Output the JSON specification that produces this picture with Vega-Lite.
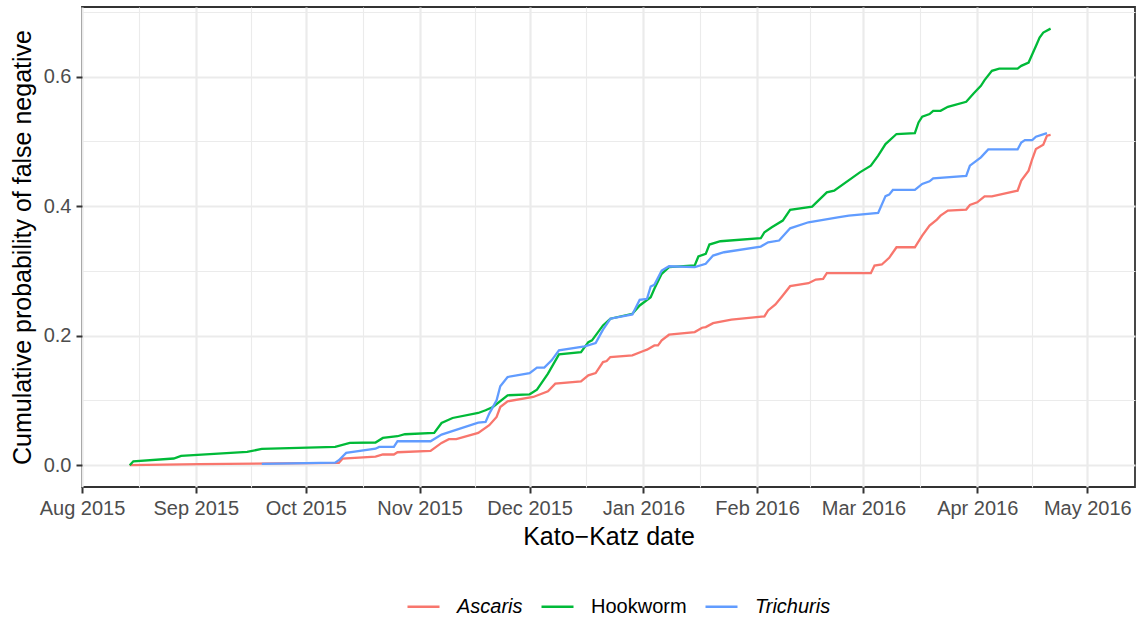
{
  "$schema": "https://vega.github.io/schema/vega-lite/v6.json",
  "width": 1053,
  "height": 480,
  "autosize": {"type": "none"},
  "padding": {"left": 82, "top": 7, "right": 8, "bottom": 132},
  "background": "white",
  "config": {
    "font": "Liberation Sans",
    "view": {"stroke": "#333333", "strokeWidth": 1.8},
    "axis": {"domain": false}
  },
  "data": {"values": [
    {"s":"Ascaris","d":"2015-08-14","p":0},
    {"s":"Ascaris","d":"2015-09-02","p":0.0015},
    {"s":"Ascaris","d":"2015-10-10","p":0.0035},
    {"s":"Ascaris","d":"2015-10-11","p":0.010},
    {"s":"Ascaris","d":"2015-10-20","p":0.0131},
    {"s":"Ascaris","d":"2015-10-22","p":0.0165},
    {"s":"Ascaris","d":"2015-10-25","p":0.0165},
    {"s":"Ascaris","d":"2015-10-26","p":0.020},
    {"s":"Ascaris","d":"2015-11-04","p":0.022},
    {"s":"Ascaris","d":"2015-11-07","p":0.0344},
    {"s":"Ascaris","d":"2015-11-09","p":0.0401},
    {"s":"Ascaris","d":"2015-11-11","p":0.0401},
    {"s":"Ascaris","d":"2015-11-17","p":0.0498},
    {"s":"Ascaris","d":"2015-11-20","p":0.0617},
    {"s":"Ascaris","d":"2015-11-22","p":0.0745},
    {"s":"Ascaris","d":"2015-11-23","p":0.0899},
    {"s":"Ascaris","d":"2015-11-25","p":0.0987},
    {"s":"Ascaris","d":"2015-12-02","p":0.1053},
    {"s":"Ascaris","d":"2015-12-06","p":0.1141},
    {"s":"Ascaris","d":"2015-12-08","p":0.126},
    {"s":"Ascaris","d":"2015-12-15","p":0.1295},
    {"s":"Ascaris","d":"2015-12-17","p":0.1388},
    {"s":"Ascaris","d":"2015-12-19","p":0.1423},
    {"s":"Ascaris","d":"2015-12-21","p":0.1593},
    {"s":"Ascaris","d":"2015-12-22","p":0.1608},
    {"s":"Ascaris","d":"2015-12-23","p":0.167},
    {"s":"Ascaris","d":"2015-12-29","p":0.1696},
    {"s":"Ascaris","d":"2016-01-01","p":0.1763},
    {"s":"Ascaris","d":"2016-01-02","p":0.1784},
    {"s":"Ascaris","d":"2016-01-04","p":0.185},
    {"s":"Ascaris","d":"2016-01-05","p":0.185},
    {"s":"Ascaris","d":"2016-01-06","p":0.1928},
    {"s":"Ascaris","d":"2016-01-08","p":0.2015},
    {"s":"Ascaris","d":"2016-01-15","p":0.2056},
    {"s":"Ascaris","d":"2016-01-17","p":0.2123},
    {"s":"Ascaris","d":"2016-01-18","p":0.2133},
    {"s":"Ascaris","d":"2016-01-20","p":0.2194},
    {"s":"Ascaris","d":"2016-01-25","p":0.2247},
    {"s":"Ascaris","d":"2016-02-03","p":0.2298},
    {"s":"Ascaris","d":"2016-02-04","p":0.239},
    {"s":"Ascaris","d":"2016-02-06","p":0.2483},
    {"s":"Ascaris","d":"2016-02-08","p":0.2621},
    {"s":"Ascaris","d":"2016-02-10","p":0.2765},
    {"s":"Ascaris","d":"2016-02-15","p":0.2811},
    {"s":"Ascaris","d":"2016-02-17","p":0.2868},
    {"s":"Ascaris","d":"2016-02-19","p":0.2879},
    {"s":"Ascaris","d":"2016-02-20","p":0.2965},
    {"s":"Ascaris","d":"2016-03-03","p":0.2965},
    {"s":"Ascaris","d":"2016-03-04","p":0.3084},
    {"s":"Ascaris","d":"2016-03-06","p":0.310},
    {"s":"Ascaris","d":"2016-03-08","p":0.3203},
    {"s":"Ascaris","d":"2016-03-10","p":0.3366},
    {"s":"Ascaris","d":"2016-03-15","p":0.3366},
    {"s":"Ascaris","d":"2016-03-17","p":0.3547},
    {"s":"Ascaris","d":"2016-03-19","p":0.3701},
    {"s":"Ascaris","d":"2016-03-21","p":0.3793},
    {"s":"Ascaris","d":"2016-03-22","p":0.3855},
    {"s":"Ascaris","d":"2016-03-24","p":0.3932},
    {"s":"Ascaris","d":"2016-03-29","p":0.3948},
    {"s":"Ascaris","d":"2016-03-30","p":0.402},
    {"s":"Ascaris","d":"2016-04-01","p":0.406},
    {"s":"Ascaris","d":"2016-04-03","p":0.4153},
    {"s":"Ascaris","d":"2016-04-05","p":0.4153},
    {"s":"Ascaris","d":"2016-04-12","p":0.424},
    {"s":"Ascaris","d":"2016-04-13","p":0.4395},
    {"s":"Ascaris","d":"2016-04-15","p":0.4549},
    {"s":"Ascaris","d":"2016-04-16","p":0.4729},
    {"s":"Ascaris","d":"2016-04-17","p":0.4884},
    {"s":"Ascaris","d":"2016-04-19","p":0.495},
    {"s":"Ascaris","d":"2016-04-20","p":0.5089},
    {"s":"Ascaris","d":"2016-04-21","p":0.510},
    {"s":"Hookworm","d":"2015-08-14","p":0},
    {"s":"Hookworm","d":"2015-08-15","p":0.006},
    {"s":"Hookworm","d":"2015-08-26","p":0.0103},
    {"s":"Hookworm","d":"2015-08-28","p":0.0143},
    {"s":"Hookworm","d":"2015-09-15","p":0.0205},
    {"s":"Hookworm","d":"2015-09-19","p":0.0251},
    {"s":"Hookworm","d":"2015-10-09","p":0.0282},
    {"s":"Hookworm","d":"2015-10-13","p":0.0344},
    {"s":"Hookworm","d":"2015-10-20","p":0.035},
    {"s":"Hookworm","d":"2015-10-22","p":0.0421},
    {"s":"Hookworm","d":"2015-10-26","p":0.0447},
    {"s":"Hookworm","d":"2015-10-28","p":0.0478},
    {"s":"Hookworm","d":"2015-11-05","p":0.0498},
    {"s":"Hookworm","d":"2015-11-07","p":0.0652},
    {"s":"Hookworm","d":"2015-11-10","p":0.0729},
    {"s":"Hookworm","d":"2015-11-17","p":0.0806},
    {"s":"Hookworm","d":"2015-11-19","p":0.0848},
    {"s":"Hookworm","d":"2015-11-21","p":0.0899},
    {"s":"Hookworm","d":"2015-11-25","p":0.108},
    {"s":"Hookworm","d":"2015-12-01","p":0.1095},
    {"s":"Hookworm","d":"2015-12-03","p":0.1167},
    {"s":"Hookworm","d":"2015-12-06","p":0.1414},
    {"s":"Hookworm","d":"2015-12-09","p":0.1712},
    {"s":"Hookworm","d":"2015-12-15","p":0.1747},
    {"s":"Hookworm","d":"2015-12-17","p":0.1901},
    {"s":"Hookworm","d":"2015-12-18","p":0.1928},
    {"s":"Hookworm","d":"2015-12-21","p":0.2159},
    {"s":"Hookworm","d":"2015-12-23","p":0.2262},
    {"s":"Hookworm","d":"2015-12-29","p":0.2339},
    {"s":"Hookworm","d":"2015-12-31","p":0.2467},
    {"s":"Hookworm","d":"2016-01-03","p":0.2595},
    {"s":"Hookworm","d":"2016-01-04","p":0.2725},
    {"s":"Hookworm","d":"2016-01-06","p":0.2956},
    {"s":"Hookworm","d":"2016-01-08","p":0.3058},
    {"s":"Hookworm","d":"2016-01-15","p":0.3084},
    {"s":"Hookworm","d":"2016-01-16","p":0.3223},
    {"s":"Hookworm","d":"2016-01-18","p":0.3264},
    {"s":"Hookworm","d":"2016-01-19","p":0.3408},
    {"s":"Hookworm","d":"2016-01-22","p":0.3459},
    {"s":"Hookworm","d":"2016-02-02","p":0.3505},
    {"s":"Hookworm","d":"2016-02-03","p":0.3598},
    {"s":"Hookworm","d":"2016-02-05","p":0.3675},
    {"s":"Hookworm","d":"2016-02-08","p":0.3778},
    {"s":"Hookworm","d":"2016-02-10","p":0.3943},
    {"s":"Hookworm","d":"2016-02-16","p":0.3994},
    {"s":"Hookworm","d":"2016-02-20","p":0.4214},
    {"s":"Hookworm","d":"2016-02-22","p":0.4241},
    {"s":"Hookworm","d":"2016-02-29","p":0.4523},
    {"s":"Hookworm","d":"2016-03-03","p":0.4626},
    {"s":"Hookworm","d":"2016-03-05","p":0.478},
    {"s":"Hookworm","d":"2016-03-07","p":0.496},
    {"s":"Hookworm","d":"2016-03-10","p":0.5115},
    {"s":"Hookworm","d":"2016-03-15","p":0.513},
    {"s":"Hookworm","d":"2016-03-16","p":0.5294},
    {"s":"Hookworm","d":"2016-03-17","p":0.5382},
    {"s":"Hookworm","d":"2016-03-19","p":0.5423},
    {"s":"Hookworm","d":"2016-03-20","p":0.5474},
    {"s":"Hookworm","d":"2016-03-22","p":0.5474},
    {"s":"Hookworm","d":"2016-03-24","p":0.5536},
    {"s":"Hookworm","d":"2016-03-29","p":0.5613},
    {"s":"Hookworm","d":"2016-03-31","p":0.5741},
    {"s":"Hookworm","d":"2016-04-02","p":0.586},
    {"s":"Hookworm","d":"2016-04-03","p":0.5948},
    {"s":"Hookworm","d":"2016-04-05","p":0.6091},
    {"s":"Hookworm","d":"2016-04-07","p":0.6126},
    {"s":"Hookworm","d":"2016-04-12","p":0.6126},
    {"s":"Hookworm","d":"2016-04-13","p":0.6168},
    {"s":"Hookworm","d":"2016-04-15","p":0.6219},
    {"s":"Hookworm","d":"2016-04-16","p":0.6348},
    {"s":"Hookworm","d":"2016-04-17","p":0.6476},
    {"s":"Hookworm","d":"2016-04-18","p":0.6605},
    {"s":"Hookworm","d":"2016-04-19","p":0.6682},
    {"s":"Hookworm","d":"2016-04-21","p":0.6743},
    {"s":"Trichuris","d":"2015-09-19","p":0.002},
    {"s":"Trichuris","d":"2015-10-09","p":0.004},
    {"s":"Trichuris","d":"2015-10-10","p":0.0077},
    {"s":"Trichuris","d":"2015-10-12","p":0.019},
    {"s":"Trichuris","d":"2015-10-20","p":0.0254},
    {"s":"Trichuris","d":"2015-10-21","p":0.0282},
    {"s":"Trichuris","d":"2015-10-25","p":0.0282},
    {"s":"Trichuris","d":"2015-10-26","p":0.037},
    {"s":"Trichuris","d":"2015-11-04","p":0.037},
    {"s":"Trichuris","d":"2015-11-07","p":0.0473},
    {"s":"Trichuris","d":"2015-11-17","p":0.0658},
    {"s":"Trichuris","d":"2015-11-19","p":0.0668},
    {"s":"Trichuris","d":"2015-11-20","p":0.0797},
    {"s":"Trichuris","d":"2015-11-22","p":0.1002},
    {"s":"Trichuris","d":"2015-11-23","p":0.1218},
    {"s":"Trichuris","d":"2015-11-25","p":0.1362},
    {"s":"Trichuris","d":"2015-12-01","p":0.1423},
    {"s":"Trichuris","d":"2015-12-03","p":0.1507},
    {"s":"Trichuris","d":"2015-12-05","p":0.1507},
    {"s":"Trichuris","d":"2015-12-07","p":0.1619},
    {"s":"Trichuris","d":"2015-12-09","p":0.1773},
    {"s":"Trichuris","d":"2015-12-16","p":0.1835},
    {"s":"Trichuris","d":"2015-12-19","p":0.1886},
    {"s":"Trichuris","d":"2015-12-21","p":0.2093},
    {"s":"Trichuris","d":"2015-12-23","p":0.2262},
    {"s":"Trichuris","d":"2015-12-29","p":0.2328},
    {"s":"Trichuris","d":"2015-12-31","p":0.2555},
    {"s":"Trichuris","d":"2016-01-02","p":0.257},
    {"s":"Trichuris","d":"2016-01-03","p":0.276},
    {"s":"Trichuris","d":"2016-01-04","p":0.2786},
    {"s":"Trichuris","d":"2016-01-06","p":0.3007},
    {"s":"Trichuris","d":"2016-01-08","p":0.3073},
    {"s":"Trichuris","d":"2016-01-15","p":0.3058},
    {"s":"Trichuris","d":"2016-01-18","p":0.311},
    {"s":"Trichuris","d":"2016-01-20","p":0.3238},
    {"s":"Trichuris","d":"2016-01-23","p":0.3289},
    {"s":"Trichuris","d":"2016-02-02","p":0.3377},
    {"s":"Trichuris","d":"2016-02-04","p":0.3443},
    {"s":"Trichuris","d":"2016-02-07","p":0.347},
    {"s":"Trichuris","d":"2016-02-10","p":0.3659},
    {"s":"Trichuris","d":"2016-02-15","p":0.3752},
    {"s":"Trichuris","d":"2016-02-23","p":0.3829},
    {"s":"Trichuris","d":"2016-02-26","p":0.3855},
    {"s":"Trichuris","d":"2016-03-05","p":0.3897},
    {"s":"Trichuris","d":"2016-03-07","p":0.4156},
    {"s":"Trichuris","d":"2016-03-08","p":0.4179},
    {"s":"Trichuris","d":"2016-03-09","p":0.4251},
    {"s":"Trichuris","d":"2016-03-15","p":0.4251},
    {"s":"Trichuris","d":"2016-03-17","p":0.4344},
    {"s":"Trichuris","d":"2016-03-19","p":0.4384},
    {"s":"Trichuris","d":"2016-03-20","p":0.443},
    {"s":"Trichuris","d":"2016-03-29","p":0.4467},
    {"s":"Trichuris","d":"2016-03-30","p":0.4626},
    {"s":"Trichuris","d":"2016-04-02","p":0.4754},
    {"s":"Trichuris","d":"2016-04-04","p":0.4877},
    {"s":"Trichuris","d":"2016-04-12","p":0.4877},
    {"s":"Trichuris","d":"2016-04-13","p":0.4985},
    {"s":"Trichuris","d":"2016-04-14","p":0.5022},
    {"s":"Trichuris","d":"2016-04-16","p":0.5022},
    {"s":"Trichuris","d":"2016-04-17","p":0.5073},
    {"s":"Trichuris","d":"2016-04-20","p":0.513}
  ]},
  "mark": {"type": "line", "strokeWidth": 2.3, "interpolate": "linear"},
  "encoding": {
    "x": {
      "field": "d", "type": "temporal",
      "scale": {"type": "utc", "domain": [
        {"year": 2015, "month": 8, "date": 1, "utc": true},
        {"year": 2016, "month": 5, "date": 14, "utc": true}
      ]},
      "axis": {
        "title": "Kato−Katz date",
        "titleFontSize": 25, "titleFontWeight": "normal", "titleColor": "black",
        "titlePadding": 6,
        "values": [
          {"year": 2015, "month": 8, "date": 1, "utc": true},
          {"year": 2015, "month": 8, "date": 16, "hours": 12, "utc": true},
          {"year": 2015, "month": 9, "date": 1, "utc": true},
          {"year": 2015, "month": 9, "date": 16, "utc": true},
          {"year": 2015, "month": 10, "date": 1, "utc": true},
          {"year": 2015, "month": 10, "date": 16, "hours": 12, "utc": true},
          {"year": 2015, "month": 11, "date": 1, "utc": true},
          {"year": 2015, "month": 11, "date": 16, "utc": true},
          {"year": 2015, "month": 12, "date": 1, "utc": true},
          {"year": 2015, "month": 12, "date": 16, "hours": 12, "utc": true},
          {"year": 2016, "month": 1, "date": 1, "utc": true},
          {"year": 2016, "month": 1, "date": 16, "hours": 12, "utc": true},
          {"year": 2016, "month": 2, "date": 1, "utc": true},
          {"year": 2016, "month": 2, "date": 15, "hours": 12, "utc": true},
          {"year": 2016, "month": 3, "date": 1, "utc": true},
          {"year": 2016, "month": 3, "date": 16, "hours": 12, "utc": true},
          {"year": 2016, "month": 4, "date": 1, "utc": true},
          {"year": 2016, "month": 4, "date": 16, "utc": true},
          {"year": 2016, "month": 5, "date": 1, "utc": true}
        ],
        "labelExpr": "utcdate(datum.value) == 1 && utchours(datum.value) == 0 ? utcFormat(datum.value, '%b %Y') : ''",
        "labelFontSize": 20, "labelColor": "#4D4D4D", "labelPadding": 5,
        "labelFlush": false, "labelOverlap": false,
        "tickSize": 6, "tickColor": "#333333",
        "tickWidth": {"condition": {"test": "utcdate(datum.value) == 1 && utchours(datum.value) == 0", "value": 2}, "value": 0},
        "gridColor": "#EBEBEB",
        "gridWidth": {"condition": {"test": "utcdate(datum.value) == 1 && utchours(datum.value) == 0", "value": 2.2}, "value": 1.1}
      }
    },
    "y": {
      "field": "p", "type": "quantitative",
      "scale": {"domain": [-0.0337, 0.7077], "nice": false, "zero": false},
      "axis": {
        "title": "Cumulative probability of false negative",
        "titleFontSize": 25, "titleFontWeight": "normal", "titleColor": "black",
        "titlePadding": 8,
        "values": [0, 0.1, 0.2, 0.3, 0.4, 0.5, 0.6, 0.7],
        "labelExpr": "round(datum.value * 10) % 2 == 0 ? format(datum.value, '.1f') : ''",
        "labelFontSize": 20, "labelColor": "#4D4D4D", "labelPadding": 5,
        "labelFlush": false, "labelOverlap": false,
        "tickSize": 6, "tickColor": "#333333",
        "tickWidth": {"condition": {"test": "round(datum.value * 10) % 2 == 0", "value": 2}, "value": 0},
        "gridColor": "#EBEBEB",
        "gridWidth": {"condition": {"test": "round(datum.value * 10) % 2 == 0", "value": 2.2}, "value": 1.1}
      }
    },
    "color": {
      "field": "s", "type": "nominal",
      "scale": {"domain": ["Ascaris", "Hookworm", "Trichuris"], "range": ["#F8766D", "#00BA38", "#619CFF"]},
      "legend": {
        "title": null,
        "orient": "none",
        "legendX": 324,
        "legendY": 582,
        "direction": "horizontal",
        "padding": 0,
        "symbolType": "stroke",
        "symbolSize": 1024,
        "symbolStrokeWidth": 2.3,
        "labelFontSize": 20,
        "labelColor": "black",
        "labelFontStyle": {"expr": "datum.label == 'Hookworm' ? 'normal' : 'italic'"},
        "labelOffset": 16,
        "columnPadding": 13,
        "labelLimit": 300
      }
    }
  }
}
